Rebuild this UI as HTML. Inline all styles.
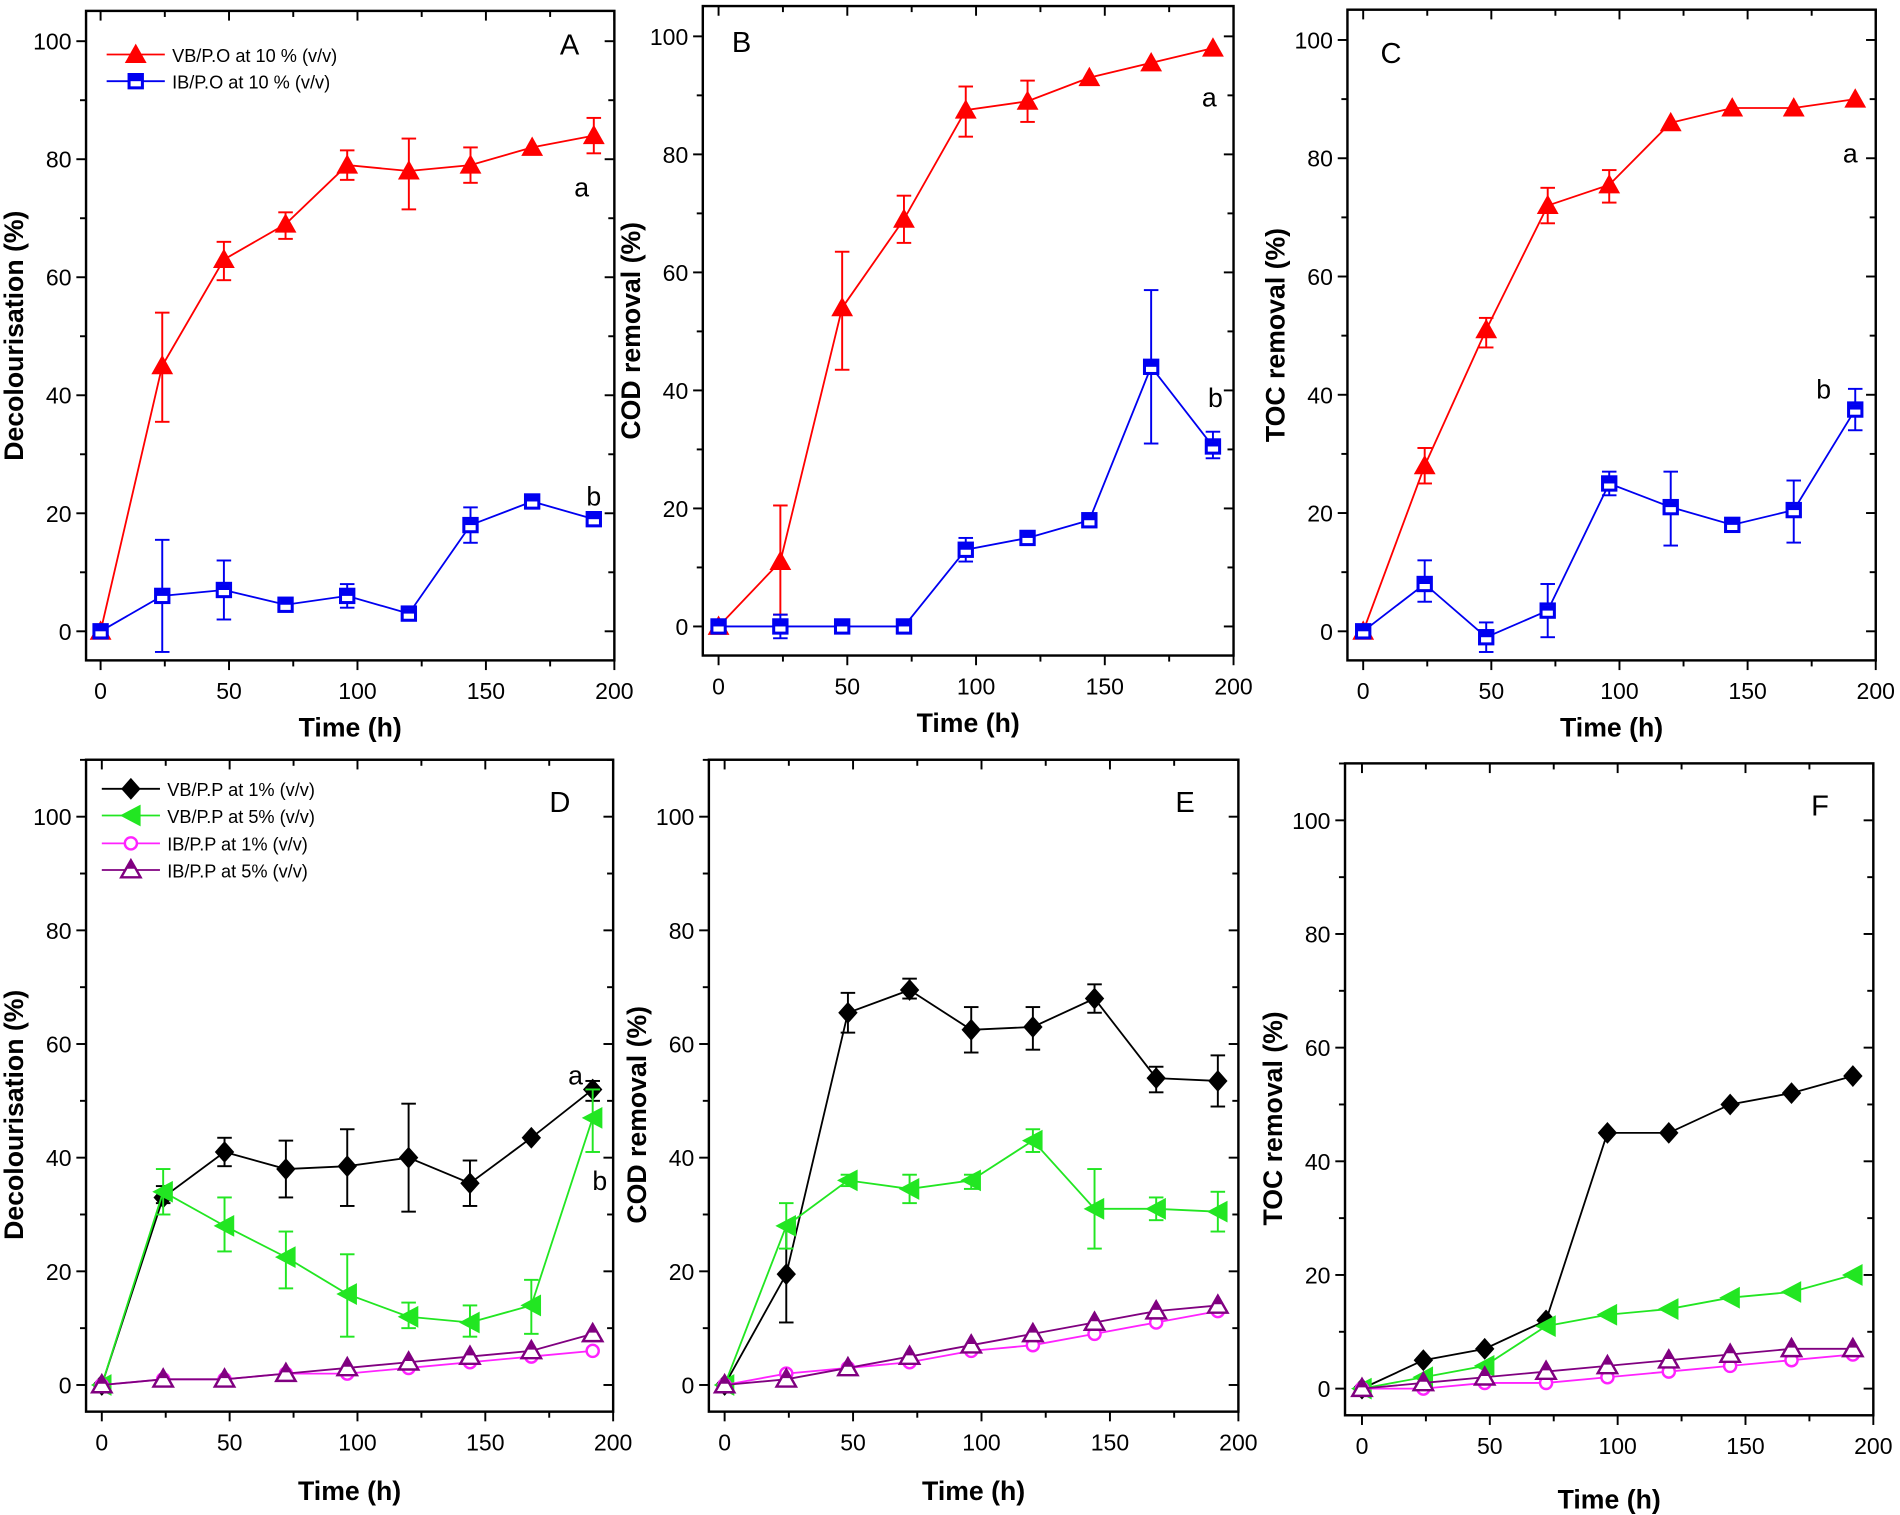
<!DOCTYPE html>
<html><head><meta charset="utf-8"><style>html,body{margin:0;padding:0;background:#fff}svg{display:block}</style></head>
<body>
<svg id="s" width="1900" height="1515" viewBox="0 0 1568 1250.3" xmlns="http://www.w3.org/2000/svg" font-family="Liberation Sans, Arial, sans-serif"></svg>
<script>
const S=document.getElementById('s');let h='';
const T=[0,24,48,72,96,120,144,168,192];
function panel(p){
 const X=v=>p.x0+(p.x200-p.x0)*v/200, Y=v=>p.y0-(p.y0-p.y100)*v/100;
 const L=p.left,R=X(200),Tp=p.top,B=p.bottom;
 h+=`<rect x="${L}" y="${Tp}" width="${R-L}" height="${B-Tp}" fill="none" stroke="#000" stroke-width="2"/>`;
 for(let v=0;v<=200;v+=25){const x=X(v),m=v%50==0,l=m?8:5;
  h+=`<line x1="${x}" y1="${B}" x2="${x}" y2="${B+l}" stroke="#000" stroke-width="1.6"/><line x1="${x}" y1="${Tp}" x2="${x}" y2="${Tp+l}" stroke="#000" stroke-width="1.6"/>`;
  if(m)h+=`<text x="${x}" y="${B+32}" font-size="19" text-anchor="middle">${v}</text>`;}
 for(let v=0;v<=p.ymax;v+=10){const y=Y(v),m=v%20==0,l=m?8:5;
  h+=`<line x1="${L-l}" y1="${y}" x2="${L}" y2="${y}" stroke="#000" stroke-width="1.6"/><line x1="${R-l}" y1="${y}" x2="${R}" y2="${y}" stroke="#000" stroke-width="1.6"/>`;
  if(m)h+=`<text x="${L-12}" y="${y+7}" font-size="19" text-anchor="end">${v}</text>`;}
 h+=`<text x="${(L+R)/2}" y="${B+63+p.xo}" font-size="22" font-weight="bold" text-anchor="middle">Time (h)</text>`;
 h+=`<text transform="translate(${L-52},${(Tp+B)/2+p.yo}) rotate(-90)" font-size="22" font-weight="bold" text-anchor="middle">${p.ylab}</text>`;
 p.series.forEach(s=>{
  const pts=s.d.map((d,i)=>[X(T[i]),Y(Array.isArray(d)?d[0]:d)]);
  s.d.forEach((d,i)=>{if(Array.isArray(d)){const x=pts[i][0];h+=`<line x1="${x}" y1="${Y(d[1])}" x2="${x}" y2="${Y(d[2])}" stroke="${s.c}" stroke-width="1.6"/><line x1="${x-6}" y1="${Y(d[1])}" x2="${x+6}" y2="${Y(d[1])}" stroke="${s.c}" stroke-width="1.6"/><line x1="${x-6}" y1="${Y(d[2])}" x2="${x+6}" y2="${Y(d[2])}" stroke="${s.c}" stroke-width="1.6"/>`;}});
  h+=`<polyline points="${pts.map(q=>q.join(',')).join(' ')}" fill="none" stroke="${s.c}" stroke-width="1.5"/>`;
  pts.forEach(q=>h+=mk(s.m,q[0],q[1],s.c));
 });
 p.txt.forEach(t=>h+=`<text x="${t[1]}" y="${t[2]}" font-size="${t[3]||22}" text-anchor="middle">${t[0]}</text>`);
}
function mk(m,x,y,c){
 if(m=='tri')return `<polygon points="${x},${y-9} ${x-9},${y+7} ${x+9},${y+7}" fill="${c}"/>`;
 if(m=='sq')return `<rect x="${x-5.5}" y="${y-5.5}" width="11" height="11" fill="#fff" stroke="${c}" stroke-width="2.5"/><rect x="${x-4.5}" y="${y-4.5}" width="9" height="4.5" fill="${c}"/>`;
 if(m=='dia')return `<polygon points="${x},${y-9} ${x+8},${y} ${x},${y+9} ${x-8},${y}" fill="${c}"/>`;
 if(m=='lt')return `<polygon points="${x-9},${y} ${x+8},${y-9} ${x+8},${y+9}" fill="${c}"/>`;
 if(m=='cir')return `<circle cx="${x}" cy="${y}" r="5" fill="#fff" stroke="${c}" stroke-width="2"/>`;
 if(m=='otri')return `<polygon points="${x},${y-8} ${x-8},${y+6} ${x+8},${y+6}" fill="#fff" stroke="${c}" stroke-width="2"/><polygon points="${x},${y-8} ${x-4},${y-1} ${x+4},${y-1}" fill="${c}"/>`;
}
const red='#f00',blue='#0000f0',blk='#000',grn='#22e622',mag='#ff22ff',pur='#800080';
panel({x0:83,x200:507,left:71,top:9,bottom:545,y0:521,y100:34,ymax:100,ylab:'Decolourisation (%)',yo:0,xo:0,
 series:[{c:red,m:'tri',d:[0,[45,35.5,54],[63,59.5,66],[69,66.5,71],[79,76.5,81.5],[78,71.5,83.5],[79,76,82],82,[84,81,87]]},
 {c:blue,m:'sq',d:[0,[6,-3.5,15.5],[7,2,12],4.5,[6,4,8],3,[18,15,21],22,19]}],
 txt:[['A',470,45,24],['a',480,162],['b',490,417]]});
panel({x0:593,x200:1018,left:580,top:5,bottom:541,y0:517,y100:30,ymax:100,ylab:'COD removal (%)',yo:0,xo:0,
 series:[{c:red,m:'tri',d:[0,[11,2,20.5],[54,43.5,63.5],[69,65,73],[87.5,83,91.5],[89,85.5,92.5],93,95.5,98]},
 {c:blue,m:'sq',d:[0,[0,-2,2],0,0,[13,11,15],15,18,[44,31,57],[30.5,28.5,33]]}],
 txt:[['B',612,43,24],['a',998,88],['b',1003,336]]});
panel({x0:1125,x200:1548,left:1112,top:8,bottom:545,y0:521,y100:33,ymax:100,ylab:'TOC removal (%)',yo:0,xo:0,
 series:[{c:red,m:'tri',d:[0,[28,25,31],[51,48,53],[72,69,75],[75.5,72.5,78],86,88.5,88.5,90]},
 {c:blue,m:'sq',d:[0,[8,5,12],[-1,-3.5,1.5],[3.5,-1,8],[25,23,27],[21,14.5,27],18,[20.5,15,25.5],[37.5,34,41]]}],
 txt:[['C',1148,52,24],['a',1527,134],['b',1505,329]]});
const dser=(a,b,c,d)=>[{c:blk,m:'dia',d:a},{c:grn,m:'lt',d:b},{c:mag,m:'cir',d:c},{c:pur,m:'otri',d:d}];
panel({x0:84,x200:506,left:71,top:627,bottom:1165,y0:1143,y100:674,ymax:110,ylab:'Decolourisation (%)',yo:24,xo:10,
 series:dser([0,[33,32,35],[41,38.5,43.5],[38,33,43],[38.5,31.5,45],[40,30.5,49.5],[35.5,31.5,39.5],43.5,[52,50,53.5]],
 [0,[34,30,38],[28,23.5,33],[22.5,17,27],[16,8.5,23],[12,10,14.5],[11,8.5,14],[14,9,18.5],[47,41,52]],
 [0,1,1,2,2,3,4,5,6],[0,1,1,2,3,4,5,6,9]),
 txt:[['D',462,670,24],['a',475,895],['b',495,982]]});
panel({x0:598,x200:1022,left:585,top:627,bottom:1165,y0:1143,y100:674,ymax:110,ylab:'COD removal (%)',yo:24,xo:10,
 series:dser([0,[19.5,11,28],[65.5,62,69],[69.5,68,71.5],[62.5,58.5,66.5],[63,59,66.5],[68,65.5,70.5],[54,51.5,56],[53.5,49,58]],
 [0,[28,24,32],[36,35,37],[34.5,32,37],[36,34.5,37],[43,41,45],[31,24,38],[31,29,33],[30.5,27,34]],
 [0,2,3,4,6,7,9,11,13],[0,1,3,5,7,9,11,13,14]),
 txt:[['E',978,670,24]]});
panel({x0:1124,x200:1546,left:1110,top:630,bottom:1168,y0:1146,y100:677,ymax:110,ylab:'TOC removal (%)',yo:24,xo:14,
 series:dser([0,5,7,12,45,45,50,52,55],[0,2,4,11,13,14,16,17,20],[0,0,1,1,2,3,4,5,6],[0,1,2,3,4,5,6,7,7]),
 txt:[['F',1502,673,24]]});
function leg(x,y,c,m,t){h+=`<line x1="${x}" y1="${y}" x2="${x+48}" y2="${y}" stroke="${c}" stroke-width="1.5"/>`+mk(m,x+24,y,c)+`<text x="${x+54}" y="${y+6}" font-size="15">${t}</text>`;}
leg(88,45,red,'tri','VB/P.O at 10 % (v/v)');leg(88,67,blue,'sq','IB/P.O at 10 % (v/v)');
leg(84,651,blk,'dia','VB/P.P at 1% (v/v)');leg(84,673,grn,'lt','VB/P.P at 5% (v/v)');
leg(84,696,mag,'cir','IB/P.P at 1% (v/v)');leg(84,718,pur,'otri','IB/P.P at 5% (v/v)');
S.innerHTML=h;
</script>
</body></html>
